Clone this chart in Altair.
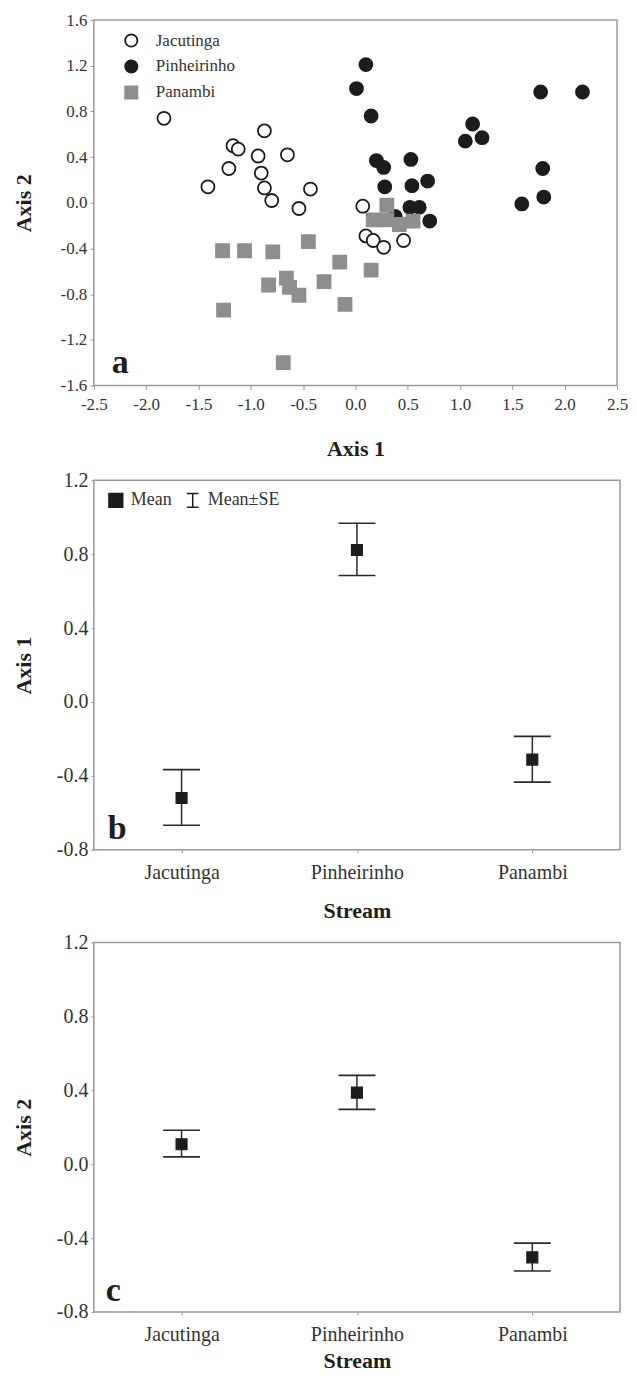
import altair as alt
import pandas as pd

FONT = "Liberation Serif"

# ---------------- data ----------------
STREAMS = ["Jacutinga", "Pinheirinho", "Panambi"]

JAC_X = [-1.83, -0.87, -1.17, -1.12, -0.93, -0.65, -1.21, -0.90, -1.41, -0.87, -0.43, -0.80, -0.54, 0.07, 0.10, 0.17, 0.27, 0.46]
JAC_Y = [0.74, 0.63, 0.50, 0.47, 0.41, 0.42, 0.30, 0.26, 0.14, 0.13, 0.12, 0.02, -0.05, -0.03, -0.29, -0.33, -0.39, -0.33]
PIN_X = [0.01, 0.10, 0.15, 0.20, 0.27, 0.53, 0.28, 0.54, 0.69, 0.52, 0.61, 0.71, 0.38, 1.05, 1.12, 1.21, 1.77, 2.17, 1.79, 1.59, 1.80]
PIN_Y = [1.00, 1.21, 0.76, 0.37, 0.31, 0.38, 0.14, 0.15, 0.19, -0.04, -0.04, -0.16, -0.12, 0.54, 0.69, 0.57, 0.97, 0.97, 0.30, -0.01, 0.05]
PAN_X = [-1.27, -1.06, -0.79, -0.45, -0.15, -0.66, -0.83, -0.63, -0.54, -0.30, -0.10, -1.26, -0.69, 0.15, 0.30, 0.17, 0.30, 0.42, 0.55]
PAN_Y = [-0.42, -0.42, -0.43, -0.34, -0.52, -0.66, -0.72, -0.74, -0.81, -0.69, -0.89, -0.94, -1.40, -0.59, -0.02, -0.15, -0.15, -0.19, -0.16]

AX1_MEAN = [-0.52, 0.823, -0.312]
AX1_LOW = [-0.667, 0.685, -0.434]
AX1_HIGH = [-0.366, 0.968, -0.186]
AX2_MEAN = [0.108, 0.388, -0.504]
AX2_LOW = [0.040, 0.297, -0.578]
AX2_HIGH = [0.184, 0.481, -0.427]

X_DOMAIN_A = [-2.5, 2.5]
Y_DOMAIN_A = [-1.6, 1.6]
Y_DOMAIN_BC = [-0.8, 1.2]
X_TICKS_A = [-2.5, -2.0, -1.5, -1.0, -0.5, 0.0, 0.5, 1.0, 1.5, 2.0, 2.5]
Y_TICKS_A = [-1.6, -1.2, -0.8, -0.4, 0.0, 0.4, 0.8, 1.2, 1.6]
Y_TICKS_BC = [-0.8, -0.4, 0.0, 0.4, 0.8, 1.2]
LEGEND_B = ["Mean", "Mean\u00b1SE"]
PANEL_LABELS = ["a", "b", "c"]

# draw order: Pinheirinho, Panambi, Jacutinga (legend order set by domain)
scatter = pd.concat([
    pd.DataFrame({"axis1": PIN_X, "axis2": PIN_Y, "stream": "Pinheirinho"}),
    pd.DataFrame({"axis1": PAN_X, "axis2": PAN_Y, "stream": "Panambi"}),
    pd.DataFrame({"axis1": JAC_X, "axis2": JAC_Y, "stream": "Jacutinga"}),
], ignore_index=True)

LABEL_EXPR = "replace(format(datum.value, '.1f'), '\u2212', '-')"
TXT = "#333333"
TTL = "#1e1e1e"
TICKC = "#999999"
FRAME = "#9a9a9a"
DARK = "#1c1c1c"
GREY = "#8e8e8e"

AX_COMMON = dict(domain=False, grid=False, labelFont=FONT, titleFont=FONT, labelColor=TXT,
                 titleColor=TTL, titleFontWeight="bold", tickColor=TICKC, tickWidth=1,
                 labelFlush=False)

# ---------------- panel a ----------------
xscale_a = alt.Scale(domain=X_DOMAIN_A, nice=False, zero=False)
yscale_a = alt.Scale(domain=Y_DOMAIN_A, nice=False, zero=False)

leg_a = alt.Legend(
    title=None, orient="none", legendX=29, legendY=12,
    labelFontSize=17, labelFont=FONT, labelColor=TXT, symbolSize=150,
    symbolStrokeWidth=1.8, rowPadding=5, labelOffset=16, padding=0,
)

xaxis_a = alt.Axis(values=X_TICKS_A, labelExpr=LABEL_EXPR, title="Axis 1",
                   labelFontSize=17, titleFontSize=22, labelPadding=7, titlePadding=26,
                   tickSize=4, **AX_COMMON)
yaxis_a = alt.Axis(values=Y_TICKS_A, labelExpr=LABEL_EXPR, title="Axis 2",
                   labelFontSize=17, titleFontSize=22, labelPadding=3, titlePadding=18,
                   minExtent=40, maxExtent=40, tickSize=4, **AX_COMMON)

pts_a = alt.Chart(scatter).mark_point(size=170, strokeWidth=1.8, opacity=1).encode(
    x=alt.X("axis1:Q", scale=xscale_a, axis=xaxis_a),
    y=alt.Y("axis2:Q", scale=yscale_a, axis=yaxis_a),
    shape=alt.Shape("stream:N", scale=alt.Scale(domain=STREAMS, range=["circle", "circle", "square"]), legend=leg_a),
    fill=alt.Fill("stream:N", scale=alt.Scale(domain=STREAMS, range=["#ffffff", DARK, GREY]), legend=leg_a),
    stroke=alt.Stroke("stream:N", scale=alt.Scale(domain=STREAMS, range=[DARK, DARK, GREY]), legend=leg_a),
)

letter_a = alt.Chart(pd.DataFrame({"t": [PANEL_LABELS[0]]})).mark_text(
    align="left", baseline="alphabetic", fontSize=34, fontWeight="bold", font=FONT, color=TTL
).encode(x=alt.value(18), y=alt.value(353), text="t:N")

panel_a = alt.layer(pts_a, letter_a).properties(width=524, height=366)

# ---------------- panels b, c ----------------
IBEAM = "M-0.85,-1L0.85,-1M0,-1L0,1M-0.85,1L0.85,1"


def mean_panel(means, lows, highs, ytitle, letter, letter_x, with_legend, x_title_pad):
    df = pd.DataFrame({"stream": STREAMS, "mean": means, "lo": lows, "hi": highs,
                       "kind": LEGEND_B[0]})
    xenc = alt.X("stream:N",
                 scale=alt.Scale(type="point", domain=STREAMS, padding=0.5),
                 axis=alt.Axis(title="Stream", labelAngle=0, labelFontSize=20, titleFontSize=22,
                               labelPadding=10, titlePadding=x_title_pad, tickSize=3, **AX_COMMON))
    yscale = alt.Scale(domain=Y_DOMAIN_BC, nice=False, zero=False)
    yaxis = alt.Axis(values=Y_TICKS_BC, labelExpr=LABEL_EXPR, title=ytitle,
                     labelFontSize=20, titleFontSize=22, labelPadding=3, titlePadding=13,
                     minExtent=45, maxExtent=45, tickSize=3, **AX_COMMON)
    base = alt.Chart(df)
    rule = base.mark_rule(color="#2a2a2a", strokeWidth=1.5).encode(
        x=xenc, y=alt.Y("lo:Q", scale=yscale, axis=yaxis), y2="hi:Q")
    tlo = base.mark_tick(size=37, thickness=1.6, color="#2a2a2a", opacity=1).encode(
        x=xenc, y=alt.Y("lo:Q", scale=yscale, axis=yaxis))
    thi = base.mark_tick(size=37, thickness=1.6, color="#2a2a2a", opacity=1).encode(
        x=xenc, y=alt.Y("hi:Q", scale=yscale, axis=yaxis))
    if with_legend:
        leg_b = alt.Legend(title=None, orient="none", legendX=13, legendY=11,
                           direction="horizontal", labelFontSize=18, labelFont=FONT,
                           labelColor=TXT, symbolSize=190, symbolStrokeColor=DARK,
                           symbolFillColor=DARK, symbolStrokeWidth=1.5,
                           labelOffset=6, columnPadding=12, padding=0)
        shape = alt.Shape("kind:N", scale=alt.Scale(domain=LEGEND_B, range=["square", IBEAM]),
                          legend=leg_b)
        stroke = alt.Stroke("kind:N", scale=alt.Scale(domain=LEGEND_B, range=[DARK, DARK]),
                            legend=leg_b)
        pts = base.mark_point(filled=False, fill=DARK, strokeWidth=1.2, size=120, opacity=1).encode(
            x=xenc, y=alt.Y("mean:Q", scale=yscale, axis=yaxis), shape=shape, stroke=stroke)
    else:
        pts = base.mark_point(filled=False, fill=DARK, stroke=DARK, strokeWidth=1.2, size=120,
                              opacity=1, shape="square").encode(
            x=xenc, y=alt.Y("mean:Q", scale=yscale, axis=yaxis))
    lab = alt.Chart(pd.DataFrame({"t": [letter]})).mark_text(
        align="left", baseline="alphabetic", fontSize=34, fontWeight="bold", font=FONT, color=TTL
    ).encode(x=alt.value(letter_x), y=alt.value(359), text="t:N")
    return alt.layer(rule, tlo, thi, pts, lab).properties(width=527, height=370)


panel_b = mean_panel(AX1_MEAN, AX1_LOW, AX1_HIGH, "Axis 1", PANEL_LABELS[1], 14, True, 18)
panel_c = mean_panel(AX2_MEAN, AX2_LOW, AX2_HIGH, "Axis 2", PANEL_LABELS[2], 12, False, 6)

chart = alt.vconcat(panel_a, panel_b, panel_c, spacing=9).properties(
    padding={"left": 4, "top": 1, "right": 0, "bottom": 0},
    background="white",
).resolve_scale(
    shape="independent", fill="independent", stroke="independent",
    x="independent", y="independent",
).resolve_legend(
    shape="independent", fill="independent", stroke="independent",
).configure(
    font=FONT
).configure_view(
    stroke=FRAME, strokeWidth=1.5
).configure_legend(
    labelFont=FONT
)

chart.save("out.html", embed_options={"renderer": "svg", "actions": False})
